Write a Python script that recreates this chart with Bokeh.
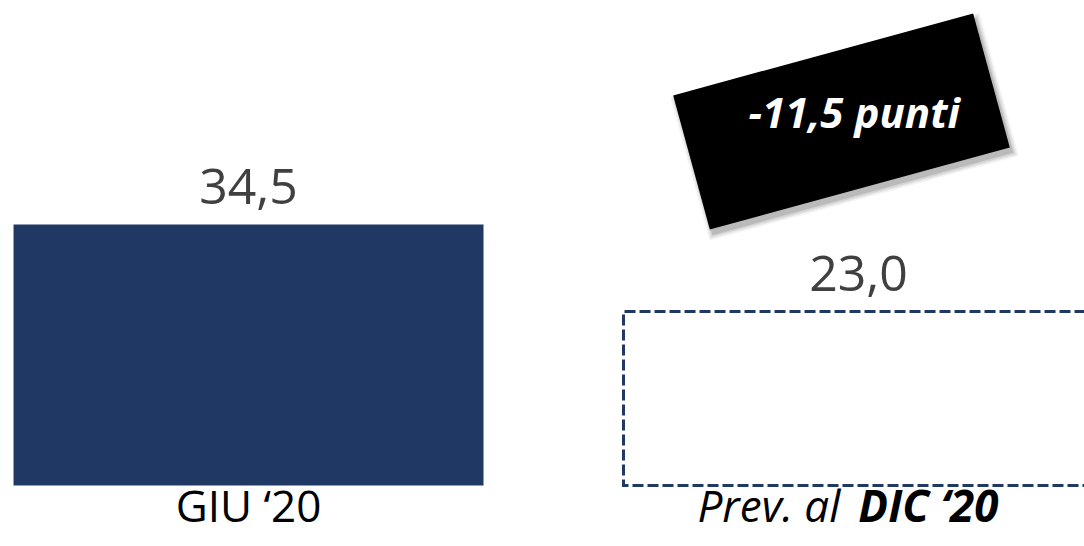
import math
from bokeh.plotting import figure
from bokeh.models import Range1d
from bokeh.embed import file_html
from bokeh.resources import INLINE
from bokeh.core.properties import value

# ---- data ----
categories = ["GIU ‘20", "Prev. al DIC ‘20"]
cat_plain = ["GIU ‘20", "Prev. al"]
cat_bold = ["", "DIC ‘20"]
values = [34.5, 23.0]
value_labels = ["34,5", "23,0"]
delta = values[1] - values[0]
delta_label = f"{delta:.1f}".replace(".", ",") + " punti"

NAVY = "#203864"
FONT = "Open Sans"

W, H = 1084, 546
p = figure(width=W, height=H, output_backend="svg", toolbar_location=None,
           x_range=Range1d(-0.4066, 1.3705), y_range=Range1d(-8.06, 64.11),
           x_axis_location=None, y_axis_location=None, min_border=0)
p.grid.visible = False
p.outline_line_color = None
p.background_fill_color = "white"
p.border_fill_color = "white"

xs = [0, 1]
bar_w = 0.7705

# solid bar
p.vbar(x=[xs[0]], top=[values[0]], bottom=0, width=bar_w,
       fill_color=NAVY, line_color=None)

# dashed forecast bar (outline built from the category position, value and bar width)
l = xs[1] - bar_w / 2
r = xs[1] + bar_w / 2
v = values[1]
p.line(x=[r, l, l, r, r], y=[0, 0, v, v, 0],
       line_color=NAVY, line_width=3, line_dash="11 4", line_join="miter")

# value labels
p.text(x=xs, y=[val + 5.02 for val in values], text=value_labels,
       text_font=value(FONT), text_font_size="50px", text_color="#404040",
       text_align="center", text_baseline="alphabetic")

# category labels
p.text(x=[xs[0]], y=[-2.64], text=[cat_plain[0]],
       text_font=value(FONT), text_font_size="44px", text_color="#000000",
       text_align="center", text_baseline="alphabetic")
p.text(x=[xs[1] - 0.015], y=[-2.64], text=[cat_plain[1]], x_offset=-9,
       text_font=value(FONT), text_font_size="44px", text_font_style="italic",
       text_color="#000000", text_align="right", text_baseline="alphabetic")
p.text(x=[xs[1] - 0.015], y=[-2.64], text=[cat_bold[1]], x_offset=9,
       text_font=value(FONT), text_font_size="44px", text_font_style="bold italic",
       text_color="#000000", text_align="left", text_baseline="alphabetic")

# rotated callout box with shadow
bx, by = 0.9721, 48.12
ang = math.radians(15.3)
px_x = 1 / 610.0
px_y = 1 / 7.565
for k, a in [(10, 0.04), (7, 0.06), (4, 0.08), (1, 0.12)]:
    p.rect(x=[bx + 3 * px_x], y=[by - 5 * px_y], width=311 + k, height=139 + k,
           width_units="screen", height_units="screen", angle=ang,
           fill_color="#000000", fill_alpha=a, line_color=None)
p.rect(x=[bx], y=[by], width=311, height=139,
       width_units="screen", height_units="screen", angle=ang,
       fill_color="#000000", line_color=None)
p.text(x=[0.993], y=[49.44], text=[delta_label],
       text_font=value(FONT), text_font_size="42px", text_font_style="bold italic",
       text_color="white", text_align="center", text_baseline="alphabetic")

open("out.html", "w").write(file_html(p, INLINE))
